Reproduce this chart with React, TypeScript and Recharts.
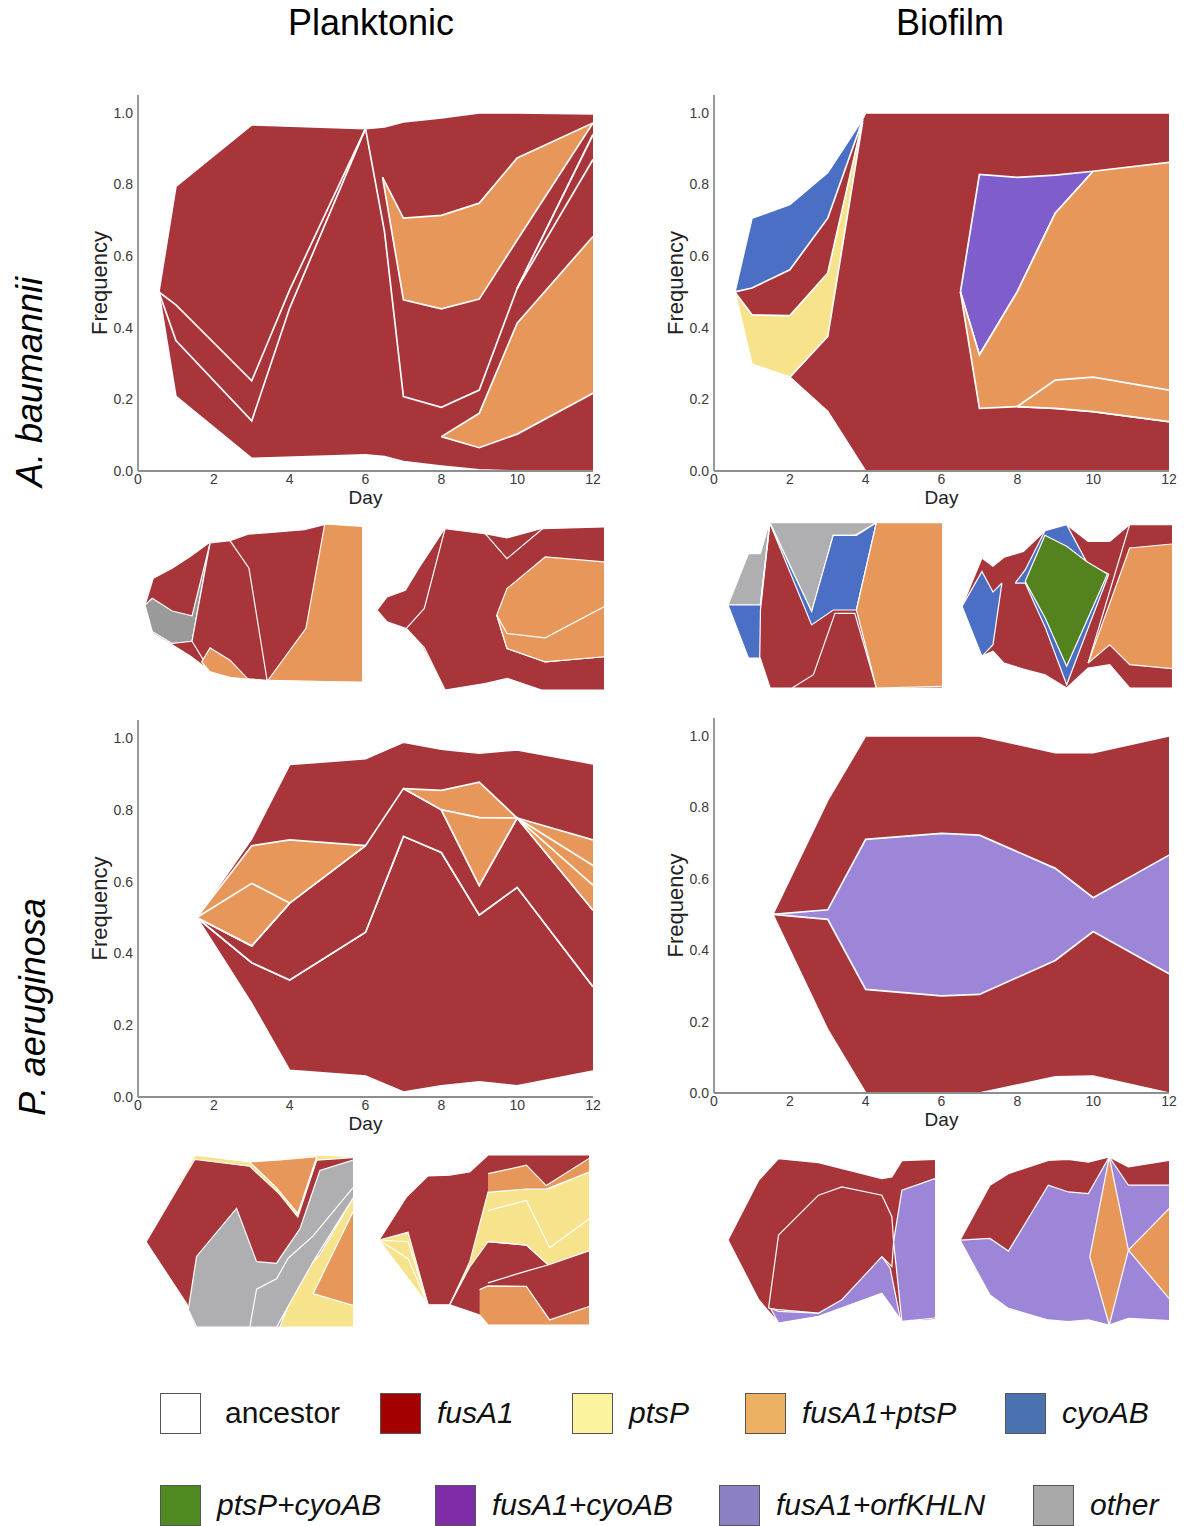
import { AreaChart, Area, XAxis, YAxis } from 'recharts';

// [day, lower frequency, upper frequency]
type Pt = [number, number, number];
type Band = [string, Pt[]];

const DAY_TICKS = [0, 2, 4, 6, 8, 10, 12];
const FREQ_TICKS = [0, 0.2, 0.4, 0.6, 0.8, 1.0];

const LEGEND_ROW1 = ['ancestor', 'fusA1', 'ptsP', 'fusA1+ptsP', 'cyoAB'];
const LEGEND_ROW2 = ['ptsP+cyoAB', 'fusA1+cyoAB', 'fusA1+orfKHLN', 'other'];
const LEGEND_X1 = [160, 380, 572, 745, 1005];
const LEGEND_X2 = [160, 435, 719, 1033];

const LEGEND_COLORS: Record<string, string> = {
  ancestor: '#ffffff',
  fusA1: '#a30000',
  ptsP: '#fcf39f',
  'fusA1+ptsP': '#ebb062',
  cyoAB: '#4a72b1',
  'ptsP+cyoAB': '#4f8a23',
  'fusA1+cyoAB': '#7e2ca7',
  'fusA1+orfKHLN': '#8b80c4',
  other: '#a9a9a9',
};

const AREA_COLORS: Record<string, string> = {
  fusA1: '#a8353a',
  ptsP: '#f6e38b',
  'fusA1+ptsP': '#e8975b',
  cyoAB: '#4b6fc4',
  'ptsP+cyoAB': '#54821f',
  'fusA1+cyoAB': '#7f5ecc',
  'fusA1+orfKHLN': '#9d86d7',
  other: '#afafb1',
  otherDark: '#9a9a9a',
};

// ---- A. baumannii, planktonic (main) ----
const abPlankAll: Pt[] = [[0.55, .5, .5], [1, .208, .795], [3, .035, .967], [6, .045, .956], [6.5, .04, .961], [7, .026, .975], [8, .014, .986], [9, .003, 1], [10, 0, 1], [12, 0, .997]];
const abPlankEarly: Pt[] = [[0.55, .5, .5], [1, .364, .464], [3, .14, .252], [4, .455, .506], [6, .956, .956]];
const abPlankLate: Pt[] = [[6, .956, .956], [6.5, .669, .961], [7, .208, .975], [8, .178, .986], [9, .226, 1], [10, .51, 1], [12, .939, .997]];
const abPlankSide: Pt[] = [[10, .51, .51], [12, .87, .939]];
const abPlankDouble1: Pt[] = [[6.45, .82, .82], [7, .478, .706], [8, .453, .714], [9, .48, .748], [10, .645, .874], [12, .972, .972]];
const abPlankDouble2: Pt[] = [[8, .096, .096], [9, .065, .161], [10, .103, .413], [12, .217, .655]];

// ---- A. baumannii, biofilm (main) ----
const abBioAll: Pt[] = [[0.55, .5, .5], [1, .298, .706], [2, .262, .744], [3, .166, .834], [3.92, .013, .983], [4, 0, 1], [12, 0, 1]];
const abBioCyo: Pt[] = [[0.55, .5, .5], [1, .511, .706], [2, .562, .744], [3, .706, .834], [3.92, .98, .983]];
const abBioPts: Pt[] = [[0.55, .5, .5], [1, .298, .436], [2, .262, .434], [3, .376, .553], [3.92, .975, .98]];
const abBioFusCyo: Pt[] = [[6.5, .5, .5], [7, .324, .828], [8, .501, .82], [9, .72, .826], [10, .837, .837]];
const abBioDouble1: Pt[] = [[6.5, .5, .5], [7, .175, .324], [8, .18, .501], [9, .175, .72], [10, .166, .837], [12, .138, .862]];
const abBioDouble2: Pt[] = [[8, .18, .18], [9, .175, .254], [10, .166, .262], [12, .138, .226]];

// ---- P. aeruginosa, planktonic (main) ----
const paPlankAll: Pt[] = [[1.55, .5, .5], [3, .26, .72], [4, .074, .926], [6, .058, .942], [7, .014, .988], [8, .031, .969], [9, .042, .958], [10, .031, .967], [12, .072, .928]];
const paPlankLow: Pt[] = [[1.55, .5, .5], [3, .26, .374], [4, .074, .326], [6, .058, .459], [7, .014, .726], [8, .031, .681], [9, .042, .507], [10, .031, .584], [12, .072, .307]];
const paPlankMid: Pt[] = [[1.55, .5, .5], [3, .374, .421], [4, .326, .54], [6, .459, .70], [7, .726, .859], [8, .681, .80], [9, .507, .589], [10, .584, .777], [12, .307, .52]];
const paPlankD1: Pt[] = [[1.55, .5, .5], [3, .421, .70], [4, .54, .716], [6, .70, .70]];
const paPlankD1b: Pt[] = [[1.55, .5, .5], [3, .421, .595], [4, .54, .54]];
const paPlankD2: Pt[] = [[7, .859, .859], [8, .80, .854], [9, .778, .877], [10, .777, .777]];
const paPlankD3: Pt[] = [[8, .80, .80], [9, .589, .778], [10, .777, .777]];
const paPlankD4: Pt[] = [[10, .777, .777], [12, .52, .716]];
const paPlankD4b: Pt[] = [[10, .777, .777], [12, .59, .645]];

// ---- P. aeruginosa, biofilm (main) ----
const paBioAll: Pt[] = [[1.55, .5, .5], [3, .177, .82], [4, 0, 1], [6, 0, 1], [7, 0, 1], [9, .045, .953], [10, .047, .953], [12, 0, 1]];
const paBioOrf: Pt[] = [[1.55, .5, .5], [3, .486, .513], [4, .29, .71], [6, .272, .727], [7, .276, .722], [9, .371, .629], [10, .452, .547], [12, .334, .666]];

// ---- replicate panels (no axes) ----
const sAb1All: Pt[] = [[0, .487, .487], [.46, .307, .657], [1.5, .235, .72], [2.5, .165, .795], [3.6, .07, .886], [4.7, .04, .894], [5.7, .021, .936], [6.8, .011, .945], [8.8, .005, .964], [9.9, .003, .996], [12, 0, .985]];
const sAb1Other: Pt[] = [[0, .487, .487], [.4, .32, .53], [1.5, .244, .449], [2.6, .258, .419], [3.6, .88, .88]];
const sAb1Mid: Pt[] = [[2.6, .258, .258], [3.6, .07, .88], [4.7, .04, .894], [5.75, .02, .72], [6.75, .011, .011]];
const sAb1Small: Pt[] = [[3.13, .127, .127], [3.6, .064, .216], [4.7, .03, .138], [5.71, .017, .017]];
const sAb1Big: Pt[] = [[6.8, .011, .011], [8.9, .005, .34], [9.94, .003, 1.0], [12, 0, .985]];

const sAb2All: Pt[] = [[0, .49, .49], [.53, .418, .571], [1.5, .378, .612], [2.3, .285, .765], [3.6, 0, .994], [5.7, .04, .959], [6.1, .05, .929], [6.9, .071, .933], [8.7, 0, .99], [12, 0, 1]];
const sAb2Main: Pt[] = [[1.55, .378, .378], [2.5, .26, .5], [3.6, 0, .99], [5.7, .04, .959], [6.1, .05, .929], [6.9, .071, .933], [8.7, 0, .99], [12, 0, 1]];
const sAb2Top: Pt[] = [[5.72, .959, .959], [6.87, .806, .933], [8.8, .994, .994]];
const sAb2Double: Pt[] = [[6.33, .46, .46], [6.87, .255, .622], [8.89, .173, .816], [12, .204, .786]];
const sAb2Double2: Pt[] = [[6.33, .46, .46], [6.87, .255, .347], [8.89, .173, .32], [12, .204, .51]];

const sAb3All: Pt[] = [[0, .5, .5], [1.15, .18, .81], [1.81, .18, .81], [2.36, 0, .996], [12, 0, .996]];
const sAb3Other: Pt[] = [[0, .5, .5], [1.15, .5, .81], [1.81, .5, .81], [2.32, .985, .996]];
const sAb3Cyo: Pt[] = [[0, .5, .5], [1.15, .18, .5], [1.78, .18, .5], [1.82, .47, .5], [2.34, .985, .99]];
const sAb3Other2: Pt[] = [[2.36, .996, .996], [4.69, .46, .996], [5.9, .92, .996], [7.11, .92, .996], [8.32, .996, .996]];
const sAb3Cyo2: Pt[] = [[2.36, .99, .99], [4.69, .38, .46], [5.9, .47, .92], [7.2, .47, .92], [8.32, .996, .996]];
const sAb3Fus: Pt[] = [[3.59, 0, 0], [4.79, 0, .08], [6.0, 0, .45], [7.11, 0, .45], [8.32, 0, 0]];
const sAb3Double: Pt[] = [[7.2, .47, .47], [8.32, 0, .996], [12, .01, .996]];

const sAb4All: Pt[] = [[0, .498, .498], [1.14, .193, .793], [1.77, .224, .742], [2.4, .152, .797], [3.51, .115, .833], [4.74, .08, .959], [5.98, 0, .996], [7.21, .122, .894], [8.44, .142, .894], [9.58, 0, .996], [12, 0, .996]];
const sAb4Cyo: Pt[] = [[0, .498, .498], [1.14, .193, .711], [1.77, .264, .585], [2.28, .64, .64]];
const sAb4Cyo2: Pt[] = [[3.04, .64, .64], [3.61, .64, .72], [4.74, .374, .959], [5.98, .02, .996], [7.21, .366, .752], [8.39, .695, .695]];
const sAb4PtsCyo: Pt[] = [[3.61, .65, .65], [4.74, .43, .931], [5.98, .132, .864], [7.12, .407, .772], [8.31, .695, .695]];
const sAb4Fus: Pt[] = [[7.21, .122, .152], [8.44, .142, .59], [9.58, 0, .996], [12, 0, .996]];
const sAb4Double: Pt[] = [[7.21, .152, .152], [8.44, .264, .516], [9.58, .142, .854], [12, .118, .878]];

const sPa1All: Pt[] = [[0, .495, .495], [2.36, .126, .915], [2.84, 0, 1.0], [6.0, 0, .96], [9.9, 0, 1.0], [12, 0, .99]];
const sPa1Fus: Pt[] = [[0, .495, .495], [2.36, .135, .895], [2.84, 0, .975], [6.0, 0, .935], [7.56, 0, .79], [7.76, 0, .77], [8.8, .28, .64], [9.9, .4, .97], [12, .75, .985]];
const sPa1TopDouble: Pt[] = [[6.0, .96, .96], [7.56, .81, .97], [8.8, .66, .98], [9.9, .99, .99]];
const sPa1Other: Pt[] = [[2.45, .1, .1], [2.93, 0, .41], [5.25, 0, .69], [6.41, 0, .38], [7.57, 0, .37], [7.76, 0, .40], [8.92, .3, .57], [10.08, .42, .91], [12, .75, .97]];
const sPa1Other2: Pt[] = [[6.02, 0, 0], [6.41, 0, .22], [7.57, 0, .28], [8.24, .12, .40], [9.69, .38, .53], [12, .75, .81]];
const sPa1Double: Pt[] = [[9.69, .194, .194], [12, .126, .67]];

const sPa2All: Pt[] = [[0, .499, .499], [1.56, .287, .752], [2.8, .119, .877], [4.04, .119, .881], [5.18, .079, .901], [5.75, .059, .954], [6.23, 0, 1.0], [12, 0, 1.0]];
const sPa2Pts: Pt[] = [[0, .5, .5], [1.66, .273, .545], [2.8, .12, .12]];
const sPa2Pts2: Pt[] = [[0, .5, .5], [1.66, .39, .49], [2.8, .12, .12]];
const sPa2PtsBig: Pt[] = [[4.04, .119, .119], [5.18, .34, .37], [6.23, .49, .782], [8.42, .47, .802], [9.75, .347, .802], [12, .436, .901]];
const sPa2PtsBig2: Pt[] = [[6.23, .49, .673], [8.42, .47, .733], [9.75, .347, .455], [12, .436, .624]];
const sPa2DoubleTop: Pt[] = [[6.23, .78, .89], [8.42, .8, .94], [9.56, .80, .82], [12, .9, .98]];
const sPa2DoubleLow: Pt[] = [[5.75, .059, .208], [6.23, 0, .23], [8.42, 0, .228], [9.75, 0, .03], [12, 0, .109]];
const sPa2Fus: Pt[] = [[6.23, .23, .248], [8.42, .228, .317], [9.75, .03, .356], [12, .109, .436]];

const sPa3All: Pt[] = [[0, .5, .5], [1.78, .14, .86], [2.93, 0, .99], [5.25, .04, .966], [8.92, .18, .87], [9.5, .096, .88], [10.08, .01, .978], [12, .02, .986]];
const sPa3Orf: Pt[] = [[2.45, .09, .09], [2.93, 0, .07], [5.25, .04, .06], [8.92, .18, .4], [9.4, .11, .33], [10.0, .02, .02]];
const sPa3Fus: Pt[] = [[2.35, .09, .09], [2.93, .08, .53], [5.25, .06, .77], [6.6, .14, .82], [8.92, .4, .77], [9.5, .34, .64], [9.6, .49, .49]];
const sPa3Orf2: Pt[] = [[9.6, .49, .49], [10.08, .01, .8], [12, .03, .87]];

const sPa4All: Pt[] = [[0, .505, .505], [1.72, .178, .832], [2.78, .099, .901], [5.07, .03, .98], [6.22, .02, .986], [7.37, .03, .97], [8.57, 0, 1.0], [9.67, .04, .941], [12, .026, .98]];
const sPa4Orf: Pt[] = [[0, .505, .505], [1.72, .178, .515], [2.78, .099, .44], [5.07, .03, .832], [6.22, .02, .792], [7.37, .03, .782], [8.57, 0, 1.0], [9.67, .04, .832], [12, .026, .832]];
const sPa4Double: Pt[] = [[7.45, .406, .406], [8.57, 0, 1.0], [9.67, .446, .446]];
const sPa4Double2: Pt[] = [[9.67, .446, .446], [12, .158, .693]];

const abPlankBands: Band[] = [['fusA1', abPlankAll], ['fusA1', abPlankEarly], ['fusA1', abPlankLate], ['fusA1', abPlankSide], ['fusA1+ptsP', abPlankDouble1], ['fusA1+ptsP', abPlankDouble2]];
const abBioBands: Band[] = [['fusA1', abBioAll], ['cyoAB', abBioCyo], ['ptsP', abBioPts], ['fusA1+cyoAB', abBioFusCyo], ['fusA1+ptsP', abBioDouble1], ['fusA1+ptsP', abBioDouble2]];
const paPlankBands: Band[] = [['fusA1', paPlankAll], ['fusA1', paPlankLow], ['fusA1', paPlankMid], ['fusA1+ptsP', paPlankD1], ['fusA1+ptsP', paPlankD1b], ['fusA1+ptsP', paPlankD2], ['fusA1+ptsP', paPlankD3], ['fusA1+ptsP', paPlankD4], ['fusA1+ptsP', paPlankD4b]];
const paBioBands: Band[] = [['fusA1', paBioAll], ['fusA1+orfKHLN', paBioOrf]];

const sAb1: Band[] = [['fusA1', sAb1All], ['otherDark', sAb1Other], ['fusA1', sAb1Mid], ['fusA1+ptsP', sAb1Small], ['fusA1+ptsP', sAb1Big]];
const sAb2: Band[] = [['fusA1', sAb2All], ['fusA1', sAb2Main], ['fusA1', sAb2Top], ['fusA1+ptsP', sAb2Double], ['fusA1+ptsP', sAb2Double2]];
const sAb3: Band[] = [['fusA1', sAb3All], ['other', sAb3Other], ['cyoAB', sAb3Cyo], ['other', sAb3Other2], ['cyoAB', sAb3Cyo2], ['fusA1', sAb3Fus], ['fusA1+ptsP', sAb3Double]];
const sAb4: Band[] = [['fusA1', sAb4All], ['cyoAB', sAb4Cyo], ['cyoAB', sAb4Cyo2], ['ptsP+cyoAB', sAb4PtsCyo], ['fusA1', sAb4Fus], ['fusA1+ptsP', sAb4Double]];
const sPa1: Band[] = [['ptsP', sPa1All], ['fusA1', sPa1Fus], ['fusA1+ptsP', sPa1TopDouble], ['other', sPa1Other], ['other', sPa1Other2], ['fusA1+ptsP', sPa1Double]];
const sPa2: Band[] = [['fusA1', sPa2All], ['ptsP', sPa2Pts], ['ptsP', sPa2Pts2], ['ptsP', sPa2PtsBig], ['ptsP', sPa2PtsBig2], ['fusA1+ptsP', sPa2DoubleTop], ['fusA1+ptsP', sPa2DoubleLow], ['fusA1', sPa2Fus]];
const sPa3: Band[] = [['fusA1', sPa3All], ['fusA1+orfKHLN', sPa3Orf], ['fusA1', sPa3Fus], ['fusA1+orfKHLN', sPa3Orf2]];
const sPa4: Band[] = [['fusA1', sPa4All], ['fusA1+orfKHLN', sPa4Orf], ['fusA1+ptsP', sPa4Double], ['fusA1+ptsP', sPa4Double2]];

function toRows(bands: Band[]) {
  const xs = Array.from(new Set(bands.flatMap(([, pts]) => pts.map((p) => p[0])))).sort((a, b) => a - b);
  return xs.map((x) => {
    const row: any = { x };
    bands.forEach(([, pts], i) => {
      const p = pts.find((q) => q[0] === x);
      row['b' + i] = p ? [p[1], p[2]] : null;
    });
    return row;
  });
}

function areas(bands: Band[], sw: number) {
  return bands.map(([g], i) => (
    <Area
      key={i}
      type="linear"
      dataKey={'b' + i}
      fill={AREA_COLORS[g]}
      fillOpacity={1}
      stroke="#ffffff"
      strokeWidth={sw}
      connectNulls
      dot={false}
      activeDot={false}
      isAnimationActive={false}
    />
  ));
}

function MainPanel({ bands, left, top, height }: { bands: Band[]; left: number; top: number; height: number }) {
  return (
    <div style={{ position: 'absolute', left, top }}>
      <AreaChart width={570} height={height} data={toRows(bands)} margin={{ top: 10, right: 17, left: 0, bottom: 0 }}>
        <XAxis
          type="number"
          dataKey="x"
          domain={[0, 12]}
          ticks={DAY_TICKS}
          allowDataOverflow
          tickLine={false}
          tickSize={0}
          tickMargin={3}
          height={54}
          axisLine={{ stroke: '#8e8e8e', strokeWidth: 1.8 }}
          tick={{ fill: '#3a3a3a', fontSize: 14 }}
          label={{ value: 'Day', position: 'insideBottom', offset: 21, fill: '#222', fontSize: 19 }}
        />
        <YAxis
          type="number"
          domain={[0, 1.05]}
          ticks={FREQ_TICKS}
          allowDataOverflow
          tickFormatter={(v: number) => v.toFixed(1)}
          tickLine={false}
          tickSize={0}
          tickMargin={5}
          width={98}
          axisLine={{ stroke: '#8e8e8e', strokeWidth: 1.8 }}
          tick={{ fill: '#3a3a3a', fontSize: 14 }}
          label={{ value: 'Frequency', angle: -90, position: 'insideLeft', offset: 59, fill: '#222', fontSize: 22, style: { textAnchor: 'middle' } }}
        />
        {areas(bands, 1.7)}
      </AreaChart>
    </div>
  );
}

function SmallPanel({ bands, left, top, width, height }: { bands: Band[]; left: number; top: number; width: number; height: number }) {
  return (
    <div style={{ position: 'absolute', left, top }}>
      <AreaChart width={width} height={height} data={toRows(bands)} margin={{ top: 0, right: 0, left: 0, bottom: 0 }}>
        <XAxis type="number" dataKey="x" domain={[0, 12]} hide allowDataOverflow />
        <YAxis type="number" domain={[0, 1]} hide allowDataOverflow />
        {areas(bands, 1.2)}
      </AreaChart>
    </div>
  );
}

function LegendItem({ name, x, y }: { name: string; x: number; y: number }) {
  const plain = name === 'ancestor';
  return (
    <>
      <div
        style={{
          position: 'absolute', left: x, top: y, width: 41, height: 41,
          background: LEGEND_COLORS[name], border: '1px solid #555', boxSizing: 'border-box',
        }}
      />
      <div
        style={{
          position: 'absolute', left: x + (plain ? 65 : 57), top: y + 2, fontSize: 30, lineHeight: '36px',
          fontStyle: plain ? 'normal' : 'italic', color: '#111', whiteSpace: 'nowrap',
        }}
      >
        {name}
      </div>
    </>
  );
}

export default function App() {
  return (
    <div
      style={{
        position: 'absolute', left: 0, top: 0, width: 1184, height: 1526, background: '#fff',
        fontFamily: '"Liberation Sans", Arial, sans-serif', overflow: 'hidden',
      }}
    >
      <div style={{ position: 'absolute', left: 221, width: 300, top: 2, textAlign: 'center', fontSize: 36 }}>Planktonic</div>
      <div style={{ position: 'absolute', left: 800, width: 300, top: 2, textAlign: 'center', fontSize: 36 }}>Biofilm</div>
      <div style={{ position: 'absolute', left: 30, top: 382, transform: 'translate(-50%, -50%) rotate(-90deg)', fontSize: 36, fontStyle: 'italic', whiteSpace: 'nowrap' }}>A. baumannii</div>
      <div style={{ position: 'absolute', left: 33, top: 1007, transform: 'translate(-50%, -50%) rotate(-90deg)', fontSize: 36, fontStyle: 'italic', whiteSpace: 'nowrap' }}>P. aeruginosa</div>

      <MainPanel bands={abPlankBands} left={40} top={85} height={440} />
      <MainPanel bands={abBioBands} left={616} top={85} height={440} />
      <MainPanel bands={paPlankBands} left={40} top={710} height={441} />
      <MainPanel bands={paBioBands} left={616} top={708} height={439} />

      <SmallPanel bands={sAb1} left={145} top={524} width={217} height={158} />
      <SmallPanel bands={sAb2} left={377} top={527} width={227} height={163} />
      <SmallPanel bands={sAb3} left={728} top={522} width={214} height={166} />
      <SmallPanel bands={sAb4} left={962} top={524} width={210} height={164} />
      <SmallPanel bands={sPa1} left={146} top={1155} width={207} height={172} />
      <SmallPanel bands={sPa2} left={379} top={1155} width={210} height={170} />
      <SmallPanel bands={sPa3} left={728} top={1157} width={207} height={166} />
      <SmallPanel bands={sPa4} left={960} top={1157} width={209} height={168} />

      {LEGEND_ROW1.map((n, i) => <LegendItem key={n} name={n} x={LEGEND_X1[i]} y={1393} />)}
      {LEGEND_ROW2.map((n, i) => <LegendItem key={n} name={n} x={LEGEND_X2[i]} y={1485} />)}
    </div>
  );
}
